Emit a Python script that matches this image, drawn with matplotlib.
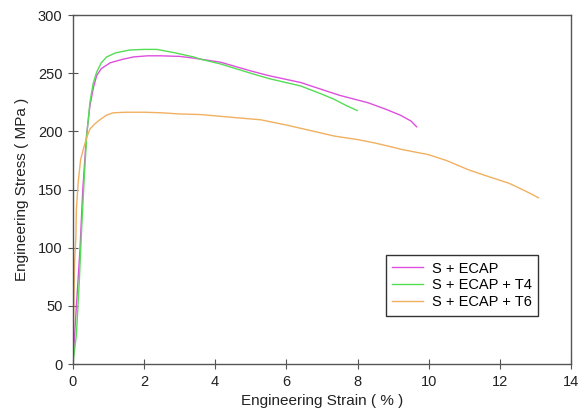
import matplotlib
matplotlib.use("Agg")
import matplotlib.pyplot as plt

# --- datos ---
strain_ecap = [0, 0.1, 0.2, 0.28, 0.38, 0.48, 0.58, 0.67, 0.8, 1.05, 1.4, 1.7, 2.1, 2.46,
               3.0, 3.4, 4.15, 5.0, 5.5, 6.41, 7.0, 7.5, 8.29, 8.8, 9.2, 9.5, 9.66]
stress_ecap = [0, 50, 98, 150, 195, 222, 238, 248, 254, 259, 262, 264, 265, 265,
               264.5, 263, 259.5, 252, 248, 242, 236, 231, 224.7, 219, 214, 209, 204]

strain_t4 = [0, 0.1, 0.18, 0.245, 0.32, 0.39, 0.48, 0.57, 0.67, 0.8, 0.95, 1.2, 1.6, 2.0,
             2.36, 2.8, 3.4, 3.6, 4.15, 5.0, 5.5, 6.41, 7.0, 7.35, 7.7, 7.99]
stress_t4 = [0, 25, 70, 115, 160, 196, 225, 241, 251, 259, 264, 267.5, 270, 270.5,
             270.5, 268, 264, 262, 258, 250, 245.5, 239, 232, 227.5, 222, 218]

strain_t6 = [0, 0.03, 0.05, 0.07, 0.085, 0.1, 0.15, 0.22, 0.29, 0.38, 0.48, 0.6, 0.76, 0.95,
             1.13, 1.5, 2.0, 2.5, 3.0, 3.59, 4.15, 4.7, 5.28, 6.0, 6.5, 7.35, 8.0, 8.5,
             9.05, 9.24, 10.0, 10.5, 11.12, 11.6, 12.0, 12.25, 12.5, 12.7, 12.9, 13.08]
stress_t6 = [0, 55, 87, 100, 108, 133, 156, 176, 184, 194, 202, 206, 210, 214,
             216, 216.5, 216.5, 216, 215, 214.5, 213, 211.5, 210, 205.5, 202, 196, 193, 190,
             186, 184.5, 180, 175, 167, 162, 158, 155.5, 152, 149, 146, 143]

labels = ["S + ECAP", "S + ECAP + T4", "S + ECAP + T6"]
colores = ["#dd50dd", "#55dd55", "#f0b060"]

plt.rcParams['font.family'] = ['Liberation Sans', 'DejaVu Sans']

fig = plt.figure(figsize=(5.78, 4.19), dpi=100)
ax = fig.add_axes([0.126, 0.131, 0.862, 0.833])

ax.plot(strain_ecap, stress_ecap, color=colores[0], lw=1, label=labels[0])
ax.plot(strain_t4, stress_t4, color=colores[1], lw=1, label=labels[1])
ax.plot(strain_t6, stress_t6, color=colores[2], lw=1, label=labels[2])

ax.set_xlim(0, 14)
ax.set_ylim(0, 300)
ax.set_xticks(range(0, 15, 2))
ax.set_yticks(range(0, 301, 50))

for s in ax.spines.values():
    s.set_color("#555555")
    s.set_linewidth(1)
ax.tick_params(direction="inout", length=7, color="#555555", labelsize=10.5,
               labelcolor="#222222", top=False, right=False, pad=4)

ax.set_xlabel("Engineering Strain ( % )", fontsize=11, color="#222222", labelpad=4)
ax.set_ylabel("Engineering Stress ( MPa )", fontsize=11, color="#222222", labelpad=6)

leg = ax.legend(loc="lower left", bbox_to_anchor=(0.628, 0.138), fontsize=10.5,
                handlelength=2.1, labelspacing=0.2, borderpad=0.45, fancybox=False,
                framealpha=1, borderaxespad=0, handletextpad=0.6)
leg.get_frame().set_edgecolor("#333333")
leg.get_frame().set_linewidth(1)

plt.savefig("out.png", dpi=100)
plt.close()
